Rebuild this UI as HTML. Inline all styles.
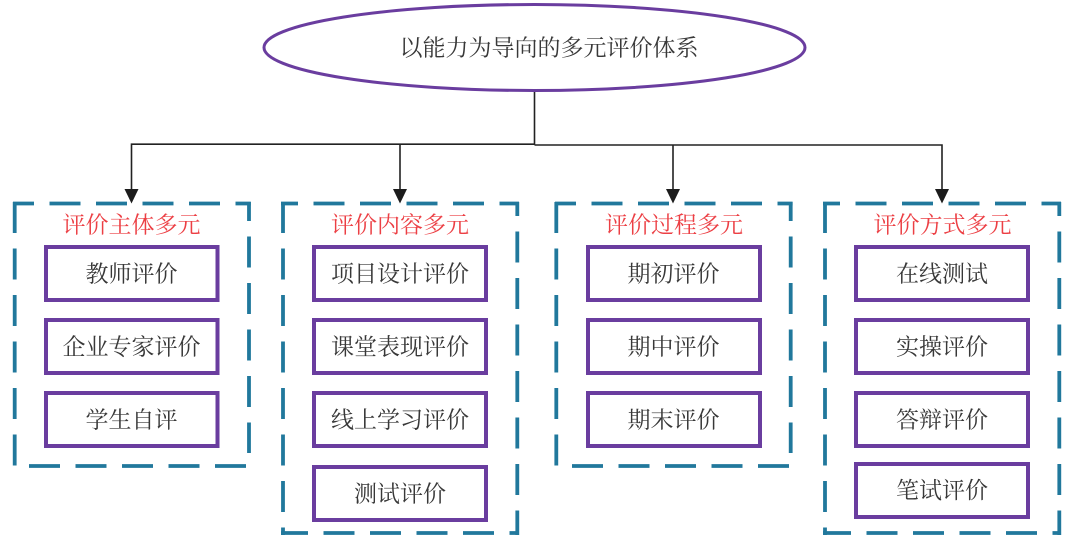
<!DOCTYPE html>
<html><head><meta charset="utf-8"><style>
html,body{margin:0;padding:0;background:#fff}
svg{display:block}
text{font-family:"Liberation Serif","Noto Serif CJK SC",serif;font-size:23px;text-anchor:middle;dominant-baseline:central;fill:#383838}
.h{fill:#ec3f44}
.d{fill:none;stroke:#21789c;stroke-width:3.8;stroke-dasharray:31 15.5}
.b{fill:#fff;stroke:#6a3d9f;stroke-width:4}
.l{fill:none;stroke:#222;stroke-width:1.6}
</style></head><body>
<svg width="1065" height="543" viewBox="0 0 1065 543" xmlns="http://www.w3.org/2000/svg">
<rect width="1065" height="543" fill="#fff"/>
<path class="l" d="M534.500 91V144.500M131.500 190V144.200H534.500M534.500 145H942V190M400 144.200V190M673 145V190"/>
<ellipse cx="534.500" cy="47.500" rx="270.500" ry="43" fill="#fff" stroke="#6a3d9f" stroke-width="3"/>
<text x="549" y="48">以能力为导向的多元评价体系</text>

<!-- column 1 dashed frame -->
<path class="d" stroke-dashoffset="10" d="M13 203.500H250.800"/>
<path class="d" d="M14.700 202V466"/>
<path class="d" stroke-dashoffset="12" d="M249 202V453"/>
<path class="d" d="M29 466H247"/>

<!-- column 2 dashed frame -->
<path class="d" stroke-dashoffset="14" d="M281 203.500H519"/>
<path class="d" d="M283 202V535"/>
<path class="d" stroke-dashoffset="17" d="M517.300 202V535"/>
<path class="d" stroke-dashoffset="4" d="M281 533H519"/>

<!-- column 3 dashed frame -->
<path class="d" stroke-dashoffset="10" d="M555 203.500H792.600"/>
<path class="d" d="M556.300 202V466"/>
<path class="d" stroke-dashoffset="12" d="M790.700 202V453"/>
<path class="d" d="M572 466H789"/>

<!-- column 4 dashed frame -->
<path class="d" stroke-dashoffset="14" d="M823 203.500H1061"/>
<path class="d" d="M825 202V535"/>
<path class="d" stroke-dashoffset="17" d="M1059.300 202V535"/>
<path class="d" stroke-dashoffset="3" d="M823 533H1061"/>

<g fill="#1c1c1c">
<path d="M124.500 189H138.500L131.500 203.500Z"/>
<path d="M393 189H407L400 203.500Z"/>
<path d="M666 189H680L673 203.500Z"/>
<path d="M935 189H949L942 203.500Z"/>
</g>

<text class="h" x="131.500" y="225">评价主体多元</text>
<text class="h" x="400" y="225">评价内容多元</text>
<text class="h" x="674" y="225">评价过程多元</text>
<text class="h" x="942.500" y="225">评价方式多元</text>

<rect class="b" x="46" y="247" width="171.500" height="53"/>
<rect class="b" x="46" y="320" width="171.500" height="53"/>
<rect class="b" x="46" y="393" width="171.500" height="53"/>
<text x="131.500" y="274">教师评价</text>
<text x="131.500" y="347">企业专家评价</text>
<text x="131.500" y="420">学生自评</text>

<rect class="b" x="314" y="247" width="172" height="53"/>
<rect class="b" x="314" y="320" width="172" height="53"/>
<rect class="b" x="314" y="393" width="172" height="53"/>
<rect class="b" x="314" y="467" width="172" height="53"/>
<text x="400" y="274">项目设计评价</text>
<text x="400" y="347">课堂表现评价</text>
<text x="400" y="420">线上学习评价</text>
<text x="400" y="494">测试评价</text>

<rect class="b" x="588" y="247" width="172" height="53"/>
<rect class="b" x="588" y="320" width="172" height="53"/>
<rect class="b" x="588" y="393" width="172" height="53"/>
<text x="673.500" y="274">期初评价</text>
<text x="673.500" y="347">期中评价</text>
<text x="673.500" y="420">期末评价</text>

<rect class="b" x="856" y="247" width="172" height="53"/>
<rect class="b" x="856" y="320" width="172" height="53"/>
<rect class="b" x="856" y="393" width="172" height="53"/>
<rect class="b" x="856" y="464" width="172" height="53"/>
<text x="942" y="274">在线测试</text>
<text x="942" y="347">实操评价</text>
<text x="942" y="420">答辩评价</text>
<text x="942" y="490.500">笔试评价</text>
</svg>
</body></html>
